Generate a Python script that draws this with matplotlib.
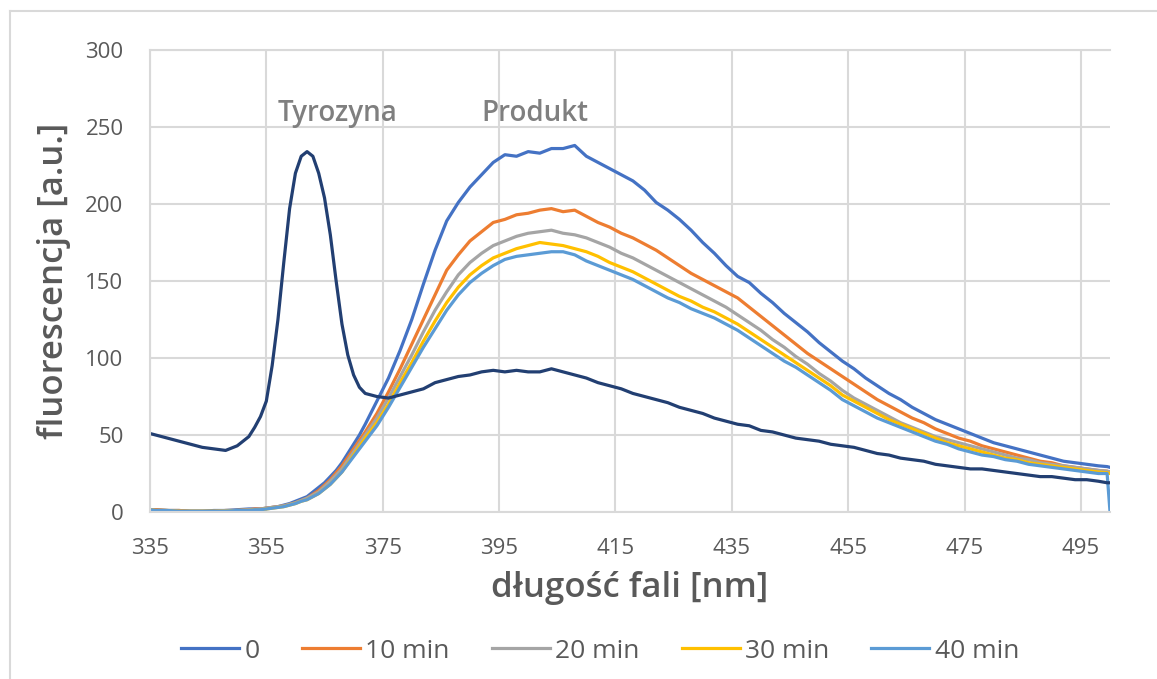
import matplotlib
matplotlib.use("Agg")
import matplotlib.pyplot as plt
from matplotlib.lines import Line2D

plt.rcParams['font.family'] = ['Open Sans', 'DejaVu Sans']

# wavelength grid [nm], 1 nm steps around the tyrosine band
wavelength = ([335] + list(range(336, 352, 2)) + list(range(352, 373))
              + list(range(374, 500, 2)) + [499.5, 500])

# tyrosine reference spectrum (not in legend)
tyrozyna = [51, 50, 48, 46, 44, 42, 41, 40, 43,
            49, 55, 62, 72, 95, 125, 162, 197, 220, 231, 234,
            231, 220, 204, 180, 150, 122, 102, 89, 81, 77,
            75, 74, 76, 78, 80, 84, 86, 88, 89, 91,
            92, 91, 92, 91, 91, 93, 91, 89, 87, 84,
            82, 80, 77, 75, 73, 71, 68, 66, 64, 61,
            59, 57, 56, 53, 52, 50, 48, 47, 46, 44,
            43, 42, 40, 38, 37, 35, 34, 33, 31, 30,
            29, 28, 28, 27, 26, 25, 24, 23, 23, 22,
            21, 21, 20, 19, 19]

t0 = [1.5, 1.5, 1, 1, 0.5, 0.5, 1, 1, 1.5,
      2, 2, 2, 2.5, 3, 3.5, 4.5, 5.5, 7, 8.5, 10,
      13, 16, 19, 23, 27, 32, 38, 44, 50, 57,
      72, 87, 105, 125, 148, 170, 189, 201, 211, 219,
      227, 232, 231, 234, 233, 236, 236, 238, 231, 227,
      223, 219, 215, 209, 201, 196, 190, 183, 175, 168,
      160, 153, 149, 142, 136, 129, 123, 117, 110, 104,
      98, 93, 87, 82, 77, 73, 68, 64, 60, 57,
      54, 51, 48, 45, 43, 41, 39, 37, 35, 33,
      32, 31, 30, 29.5, 29]

t10 = [1.5, 1.5, 1, 1, 0.5, 0.5, 0.5, 1, 1,
       1.5, 2, 2, 2.5, 3, 3.5, 4, 5, 6, 7.5, 9,
       11.5, 14, 17.5, 21, 25.5, 30, 35.5, 41, 46.5, 52,
       64, 78, 93, 109, 125, 141, 157, 167, 176, 182,
       188, 190, 193, 194, 196, 197, 195, 196, 192, 188,
       185, 181, 178, 174, 170, 165, 160, 155, 151, 147,
       143, 139, 133, 127, 121, 115, 109, 103, 98, 93,
       88, 83, 78, 73, 69, 65, 61, 58, 54, 51,
       48, 46, 43, 41, 39, 37, 35, 33, 32, 30,
       29, 28, 27, 26.5, 26]

t20 = [1.5, 1, 1, 0.5, 0.5, 0.5, 0.5, 1, 1,
       1.5, 1.5, 2, 2.5, 3, 3.5, 4, 5, 6, 7.5, 9,
       11, 13, 16.5, 20, 24, 28, 33.5, 39, 44.5, 50,
       61, 74, 88, 102, 117, 131, 143, 154, 162, 168,
       173, 176, 179, 181, 182, 183, 181, 180, 178, 175,
       172, 168, 165, 161, 157, 153, 149, 145, 141, 137,
       133, 128, 123, 118, 112, 107, 101, 96, 90, 85,
       79, 74, 70, 66, 62, 58, 55, 52, 49, 47,
       45, 43, 41, 39, 37, 35, 34, 32, 31, 30,
       29, 28, 27, 26.5, 26]

t30 = [1.5, 1, 1, 0.5, 0.5, 0.5, 0.5, 0.5, 1,
       1, 1.5, 1.5, 2, 2.5, 3, 3.5, 4.5, 5.5, 7, 8,
       10, 12, 15, 18, 22, 26, 31.5, 37, 42.5, 48,
       58, 70, 84, 97, 111, 124, 136, 146, 154, 160,
       165, 168, 171, 173, 175, 174, 173, 171, 169, 166,
       162, 159, 156, 152, 148, 144, 140, 137, 133, 130,
       126, 122, 117, 112, 107, 102, 97, 92, 87, 82,
       76, 72, 68, 64, 60, 57, 54, 51, 48, 45,
       43, 41, 39, 37, 35, 34, 32, 31, 30, 29,
       28, 27, 26, 25.5, 25]

t40 = [1.5, 1, 1, 0.5, 0.5, 0.5, 0.5, 0.5, 1,
       1, 1.5, 1.5, 2, 2.5, 3, 3.5, 4.5, 5.5, 7, 8,
       10, 12, 15, 18, 22, 26, 31, 36, 41, 46,
       56, 68, 81, 94, 107, 119, 131, 141, 149, 155,
       160, 164, 166, 167, 168, 169, 169, 167, 163, 160,
       157, 154, 151, 147, 143, 139, 136, 132, 129, 126,
       122, 118, 113, 108, 103, 98, 94, 89, 84, 79,
       73, 69, 65, 61, 58, 55, 52, 49, 46, 44,
       41, 39, 37, 36, 34, 33, 31, 30, 29, 28,
       27, 26, 25, 25, 0]

series = [t0, t10, t20, t30, t40]
labels = ['0', '10 min', '20 min', '30 min', '40 min']
colors = ['#4472C4', '#ED7D31', '#A5A5A5', '#FFC000', '#5B9BD5']
navy = '#223F72'
grid_c = '#D9D9D9'
text_c = '#595959'

fig = plt.figure(figsize=(11.57, 6.79), dpi=100)
ax = fig.add_axes([0.1296, 0.2459, 0.8298, 0.6805])

for vals, lab, col in zip(series, labels, colors):
    ax.plot(wavelength, vals, color=col, lw=2.3, label=lab, solid_joinstyle='round')
ax.plot(wavelength, tyrozyna, color=navy, lw=2.3, solid_joinstyle='round')

ax.set_xlim(335, 500)
ax.set_ylim(0, 300)
ax.set_xticks(range(335, 500, 20))
ax.set_yticks(range(0, 301, 50))
ax.grid(True, color=grid_c, lw=1.5)
ax.set_axisbelow(True)
for side in ['left', 'bottom', 'top']:
    ax.spines[side].set_color(grid_c)
    ax.spines[side].set_linewidth(1.5)
ax.spines['right'].set_visible(False)
ax.tick_params(length=0, pad=19, labelsize=16, labelcolor=text_c)

ax.set_xlabel('długość fali [nm]', fontsize=25, fontweight='semibold', color=text_c, labelpad=8)
ax.set_ylabel('fluorescencja [a.u.]', fontsize=25, fontweight='semibold', color=text_c, labelpad=10)

ax.text(367.3, 259, 'Tyrozyna', ha='center', va='center', fontsize=20,
        fontweight='semibold', color='#7F7F7F')
ax.text(401.2, 259, 'Produkt', ha='center', va='center', fontsize=20,
        fontweight='semibold', color='#7F7F7F')

handles = [Line2D([], [], color=c, lw=2.3) for c in colors]
fig.legend(handles, labels, loc='center', bbox_to_anchor=(0.5186, 0.041), ncol=5,
           frameon=False, fontsize=19, labelcolor=text_c, handlelength=2.2,
           handletextpad=0.2, columnspacing=1.6)

# light outer frame of the chart area
fig.add_artist(Line2D([0.0086, 0.0086], [0, 0.9838], transform=fig.transFigure, color=grid_c, lw=1.5))
fig.add_artist(Line2D([0.0086, 1], [0.9838, 0.9838], transform=fig.transFigure, color=grid_c, lw=1.5))

fig.savefig('out.png', dpi=100)
